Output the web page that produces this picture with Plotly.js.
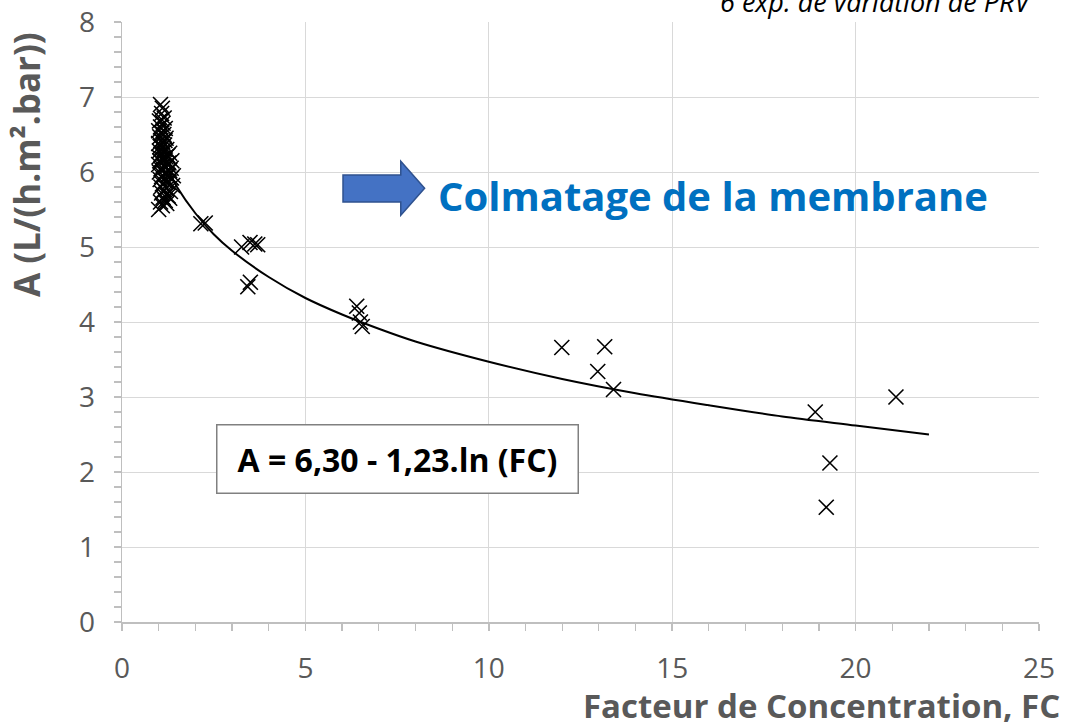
<!DOCTYPE html>
<html>
<head>
<meta charset="utf-8">
<script src="https://cdn.plot.ly/plotly-3.0.1.min.js"></script>
<style>html,body{margin:0;padding:0;background:#fff;}#chart{width:1073px;height:727px;}</style>
</head>
<body>
<div id="chart"></div>
<script>
// Measured points: concentration factor (FC) and permeability A
const fcValues = [
  1.05,1.10,1.08,1.15,1.02,1.12,1.05,1.18,1.00,1.08,1.14,1.03,1.20,1.06,1.11,1.00,1.16,1.04,1.09,1.22,
  1.02,1.13,1.07,1.25,1.01,1.10,1.18,1.05,1.28,1.00,1.12,1.20,1.06,1.30,1.02,1.15,1.24,1.08,1.35,1.04,
  1.18,1.28,1.10,1.38,1.06,1.22,1.14,1.32,1.08,1.20,1.26,1.12,1.18,1.05,1.22,1.10,1.00,1.30,1.12,1.17,
  1.24,1.26,1.34,1.40,1.08,1.15,1.20,1.03,1.30,1.36,
  2.15,2.27,3.26,3.49,3.62,3.70,3.43,3.50,
  6.40,6.47,6.50,6.55,
  11.99,13.16,12.97,13.40,18.90,21.10,19.30,19.20
];
const aValues = [
  6.90,6.85,6.78,6.72,6.68,6.65,6.60,6.58,6.55,6.52,6.50,6.47,6.45,6.42,6.40,6.38,6.36,6.34,6.32,6.30,
  6.28,6.26,6.24,6.22,6.20,6.18,6.16,6.14,6.12,6.10,6.08,6.06,6.04,6.02,6.00,5.98,5.96,5.94,5.92,5.90,
  5.88,5.86,5.84,5.82,5.80,5.78,5.76,5.74,5.72,5.70,5.68,5.66,5.62,5.60,5.58,5.55,5.50,5.65,6.55,6.42,
  6.10,5.95,6.05,5.95,6.70,6.30,6.20,6.15,6.25,6.15,
  5.31,5.32,5.00,5.06,5.04,5.03,4.47,4.53,
  4.21,4.12,4.00,3.94,
  3.66,3.67,3.34,3.10,2.80,3.00,2.12,1.53
];
// Trend curve (A = 6,30 - 1,23.ln(FC))
const trendFC = [1, 1.25, 1.5, 2, 2.5, 3, 4, 5, 6, 7, 8, 10, 12, 14, 16, 18, 20, 22];
const trendA  = [6.30, 6.03, 5.80, 5.45, 5.17, 4.95, 4.60, 4.32, 4.10, 3.91, 3.74, 3.47, 3.24, 3.05, 2.89, 2.74, 2.62, 2.50];
const xTickVals = [0, 5, 10, 15, 20, 25];
const yTickVals = [0, 1, 2, 3, 4, 5, 6, 7, 8];

const FONT = '"Open Sans", Lato, sans-serif';
const GREY = '#595959';

const traces = [
  {
    x: fcValues, y: aValues, type: 'scatter', mode: 'markers',
    marker: {symbol: 'x-thin', size: 15, color: '#000', line: {color: '#000', width: 1.6}},
    hoverinfo: 'x+y', showlegend: false
  },
  {
    x: trendFC, y: trendA, type: 'scatter', mode: 'lines',
    line: {color: '#000', width: 2, shape: 'spline', smoothing: 0.8},
    hoverinfo: 'skip', showlegend: false
  }
];

const layout = {
  width: 1073, height: 727,
  margin: {l: 122, r: 34, t: 22, b: 105},
  paper_bgcolor: '#fff', plot_bgcolor: '#fff',
  font: {family: FONT, color: GREY},
  xaxis: {
    range: [0, 25], tickvals: xTickVals, ticktext: xTickVals.map(String),
    showgrid: true, gridcolor: '#d9d9d9', gridwidth: 1,
    zeroline: false, showline: true, linecolor: '#bfbfbf', linewidth: 1.5,
    ticks: 'outside', ticklen: 7, tickcolor: '#bfbfbf', tickwidth: 1.5,
    minor: {dtick: 1, ticks: 'outside', ticklen: 7, tickcolor: '#bfbfbf', tickwidth: 1.2, showgrid: false},
    tickfont: {size: 28, color: GREY, family: FONT},
    ticklabelstandoff: 14
  },
  yaxis: {
    range: [0, 8], tickvals: yTickVals, ticktext: yTickVals.map(String),
    showgrid: true, gridcolor: '#d9d9d9', gridwidth: 1,
    zeroline: false, showline: true, linecolor: '#bfbfbf', linewidth: 1.5,
    ticks: 'outside', ticklen: 7, tickcolor: '#bfbfbf', tickwidth: 1.5,
    minor: {dtick: 0.2, ticks: 'outside', ticklen: 7, tickcolor: '#bfbfbf', tickwidth: 1.2, showgrid: false},
    tickfont: {size: 28, color: GREY, family: FONT},
    ticklabelstandoff: 13
  },
  shapes: [
    {
      type: 'path', xref: 'paper', yref: 'paper',
      path: 'M 0.241,0.745 L 0.304,0.745 L 0.304,0.768 L 0.330,0.723 L 0.304,0.678 L 0.304,0.700 L 0.241,0.700 Z',
      fillcolor: '#4472C4', line: {color: '#2F528F', width: 1.5}
    }
  ],
  annotations: [
    {
      text: '<b>Facteur de Concentration, FC</b>', xref: 'paper', yref: 'paper',
      x: (1062 - 122) / 917, y: (622 - 705) / 600, xanchor: 'right', yanchor: 'middle',
      showarrow: false, font: {size: 33, color: GREY, family: FONT}
    },
    {
      text: '<b>A (L/(h.m².bar))</b>', xref: 'paper', yref: 'paper',
      x: (27 - 122) / 917, y: (622 - 165) / 600, xanchor: 'center', yanchor: 'middle',
      textangle: -90, showarrow: false, font: {size: 35, color: GREY, family: FONT}
    },
    {
      text: '<b>Colmatage de la membrane</b>', xref: 'paper', yref: 'paper',
      x: (436 - 122) / 917, y: (622 - 195) / 600, xanchor: 'left', yanchor: 'middle',
      showarrow: false, font: {size: 40, color: '#0070C0', family: FONT}
    },
    {
      text: '<b>A = 6,30 - 1,23.ln (FC)</b>', xref: 'paper', yref: 'paper',
      x: (397 - 122) / 917, y: (622 - 459) / 600, xanchor: 'center', yanchor: 'middle',
      showarrow: false, font: {size: 32, color: '#000', family: FONT},
      bgcolor: '#fff', bordercolor: '#808080', borderwidth: 1.5, borderpad: 0,
      width: 360, height: 67, align: 'center', valign: 'middle'
    },
    {
      text: '<i>6 exp. de variation de PRV</i>', xref: 'paper', yref: 'paper',
      x: (1034 - 122) / 917, y: (622 - 1) / 600, xanchor: 'right', yanchor: 'middle',
      showarrow: false, font: {size: 27, color: '#000', family: FONT}
    }
  ]
};

Plotly.newPlot('chart', traces, layout, {displayModeBar: false, staticPlot: true});
</script>
</body>
</html>
